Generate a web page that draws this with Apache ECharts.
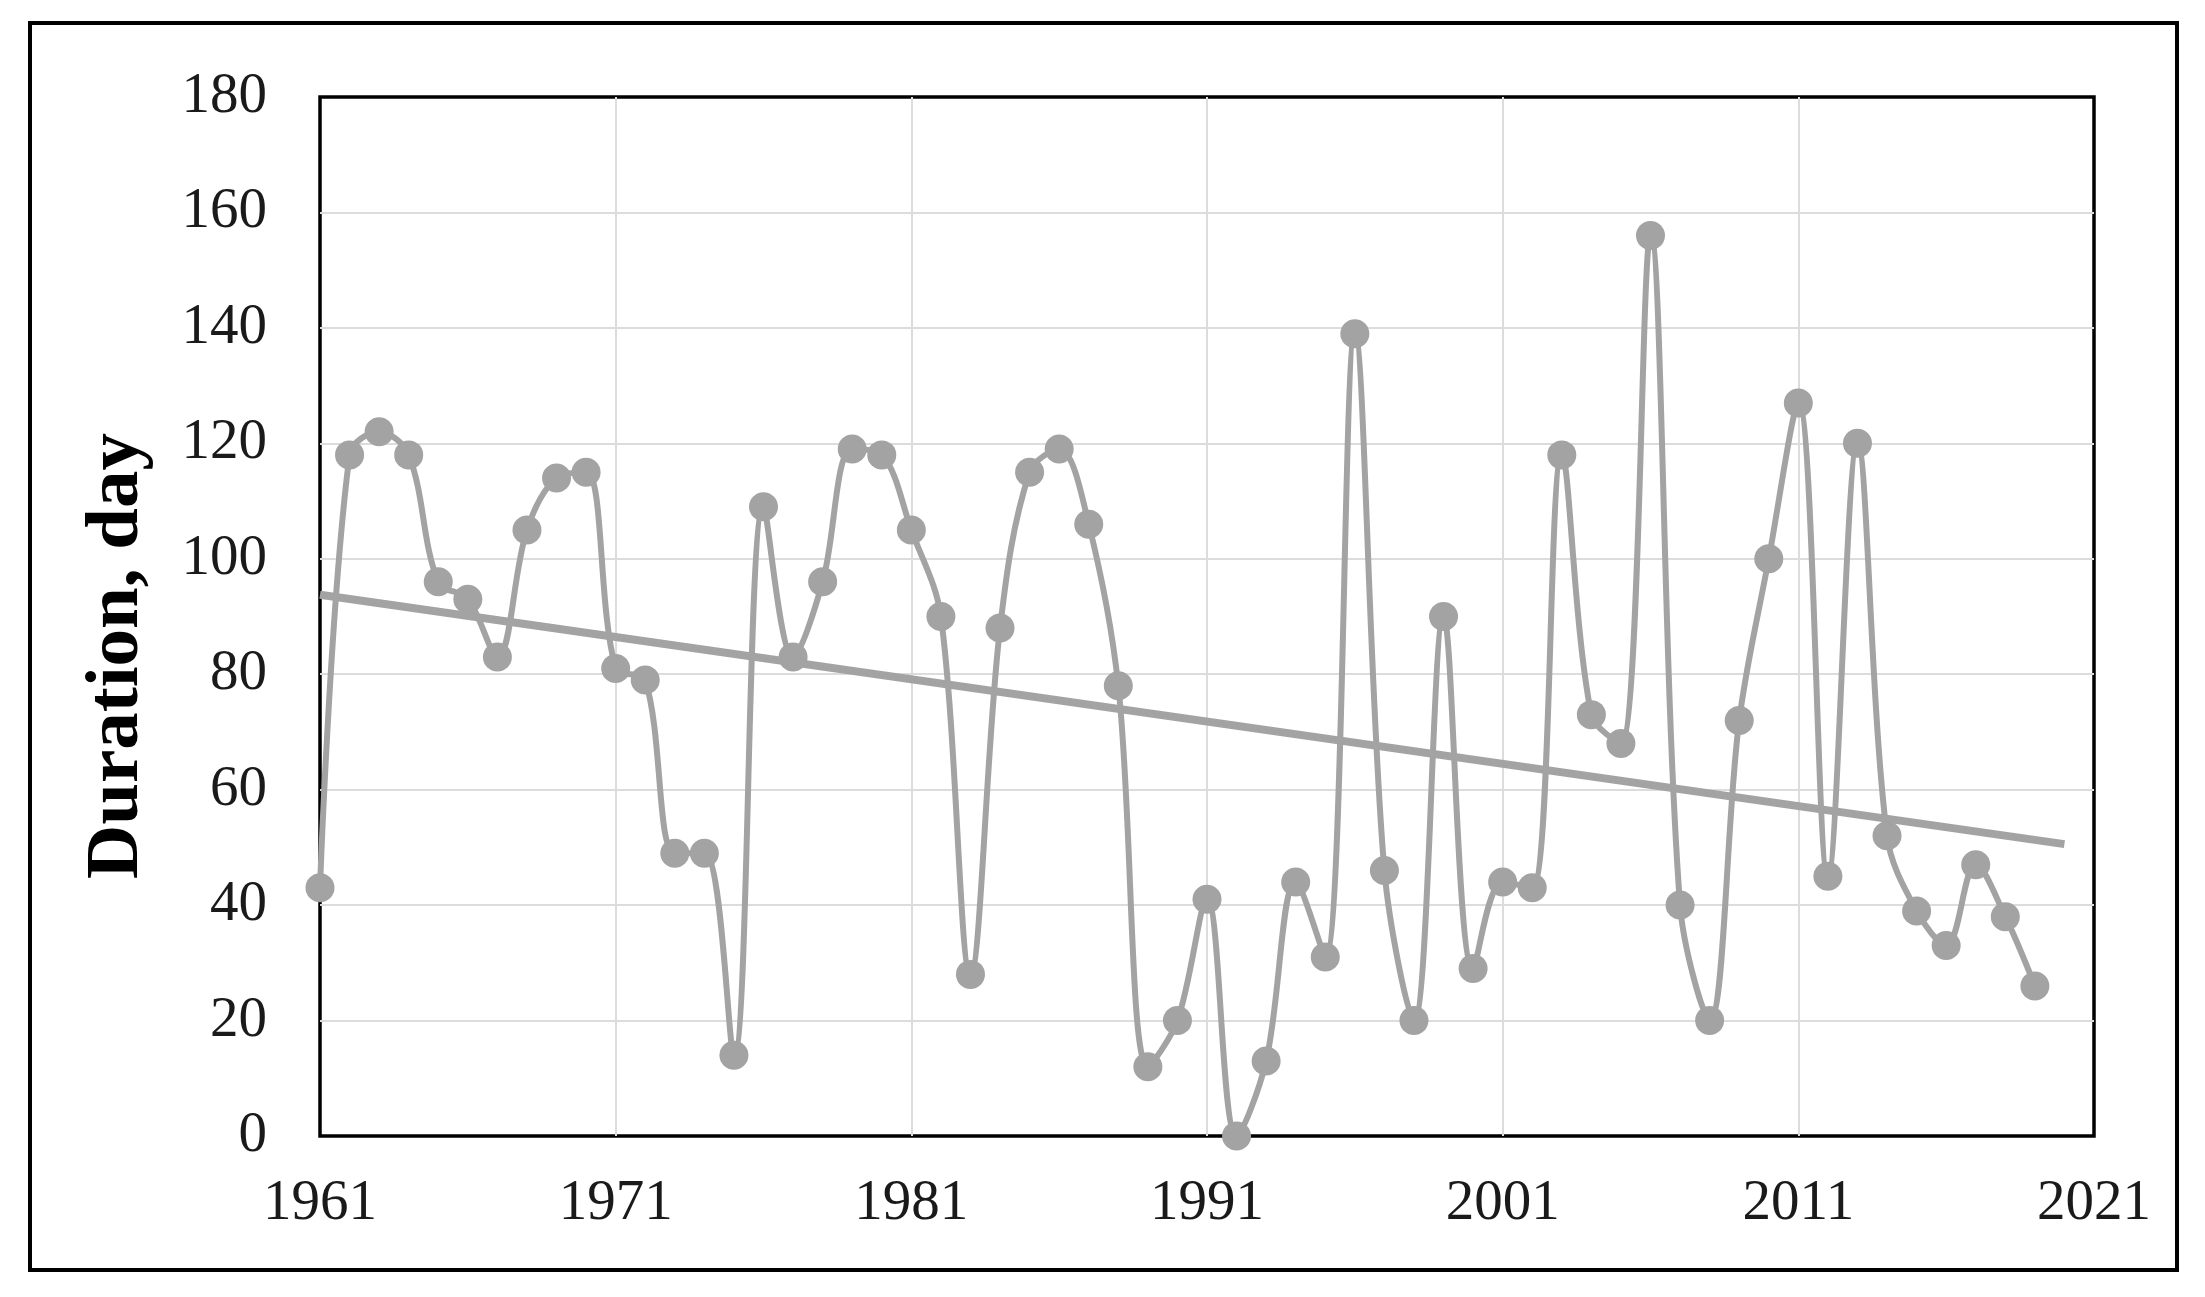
<!DOCTYPE html>
<html>
<head>
<meta charset="utf-8">
<script src="https://cdn.jsdelivr.net/npm/echarts@6/dist/echarts.min.js"></script>
<style>
  html, body { margin: 0; padding: 0; background: #ffffff; }
  #chart { width: 2205px; height: 1297px; }
</style>
</head>
<body>
<div id="chart"></div>
<script>
// ---- data ----
const years = [1961, 1962, 1963, 1964, 1965, 1966, 1967, 1968, 1969, 1970,
               1971, 1972, 1973, 1974, 1975, 1976, 1977, 1978, 1979, 1980,
               1981, 1982, 1983, 1984, 1985, 1986, 1987, 1988, 1989, 1990,
               1991, 1992, 1993, 1994, 1995, 1996, 1997, 1998, 1999, 2000,
               2001, 2002, 2003, 2004, 2005, 2006, 2007, 2008, 2009, 2010,
               2011, 2012, 2013, 2014, 2015, 2016, 2017, 2018, 2019];
const duration = [43, 118, 122, 118, 96, 93, 83, 105, 114, 115,
                  81, 79, 49, 49, 14, 109, 83, 96, 119, 118,
                  105, 90, 28, 88, 115, 119, 106, 78, 12, 20,
                  41, 0, 13, 44, 31, 139, 46, 20, 90, 29,
                  44, 43, 118, 73, 68, 156, 40, 20, 72, 100,
                  127, 45, 120, 52, 39, 33, 47, 38, 26];
const xTickLabels = ['1961', '1971', '1981', '1991', '2001', '2011', '2021'];
const yTickLabels = ['0', '20', '40', '60', '80', '100', '120', '140', '160', '180'];
const yAxisTitle = 'Duration, day';
const trendForwardPeriods = 1;

// ---- build ----
const baseYear = years[0];
const points = years.map((y, i) => [y - baseYear, duration[i]]);

// linear least-squares trend (as the spreadsheet trendline)
const n = points.length;
let sx = 0, sy = 0, sxx = 0, sxy = 0;
points.forEach(([x, y]) => { sx += x; sy += y; sxx += x * x; sxy += x * y; });
const slope = (n * sxy - sx * sy) / (n * sxx - sx * sx);
const intercept = (sy - slope * sx) / n;
const xEnd = points[n - 1][0] + trendForwardPeriods;
const trend = [[0, intercept], [xEnd, intercept + slope * xEnd]];

const FONT = '"Liberation Serif", "Times New Roman", serif';
const GRAY = '#a3a3a3';

const chart = echarts.init(document.getElementById('chart'), null, { renderer: 'canvas' });
chart.setOption({
  backgroundColor: '#ffffff',
  animation: false,
  grid: {
    left: 320, right: 111, top: 97, bottom: 161,
    show: true, borderColor: '#000000', borderWidth: 3.5, backgroundColor: 'transparent'
  },
  xAxis: {
    type: 'value',
    min: 0, max: 60, interval: 10,
    axisLine: { show: false },
    axisTick: { show: false },
    splitLine: { show: true, showMinLine: false, showMaxLine: false, lineStyle: { color: '#dcdcdc', width: 2 } },
    axisLabel: {
      margin: 40,
      color: '#1a1a1a',
      fontFamily: FONT,
      fontSize: 57,
      formatter: v => xTickLabels[Math.round(v / 10)]
    }
  },
  yAxis: {
    type: 'value',
    min: 0, max: 180, interval: 20,
    axisLine: { show: false },
    axisTick: { show: false },
    splitLine: { show: true, showMinLine: false, showMaxLine: false, lineStyle: { color: '#dcdcdc', width: 2 } },
    axisLabel: {
      margin: 53,
      color: '#1a1a1a',
      fontFamily: FONT,
      fontSize: 57,
      formatter: v => yTickLabels[Math.round(v / 20)]
    }
  },
  series: [
    {
      type: 'line',
      data: points,
      smooth: 0.35,
      clip: false,
      symbol: 'circle',
      symbolSize: 29,
      lineStyle: { color: GRAY, width: 6 },
      itemStyle: { color: GRAY },
      z: 3
    },
    {
      type: 'line',
      data: trend,
      symbol: 'none',
      clip: false,
      silent: true,
      lineStyle: { color: GRAY, width: 8 },
      z: 4
    }
  ],
  graphic: [
    {
      type: 'rect',
      shape: { x: 30, y: 23, width: 2147, height: 1247 },
      style: { fill: 'none', stroke: '#000000', lineWidth: 4 },
      silent: true
    },
    {
      type: 'text',
      x: 118, y: 656,
      rotation: Math.PI / 2,
      style: {
        text: yAxisTitle,
        fill: '#000000',
        font: 'bold 75px ' + FONT,
        align: 'center',
        verticalAlign: 'middle'
      },
      silent: true
    }
  ]
});
</script>
</body>
</html>
